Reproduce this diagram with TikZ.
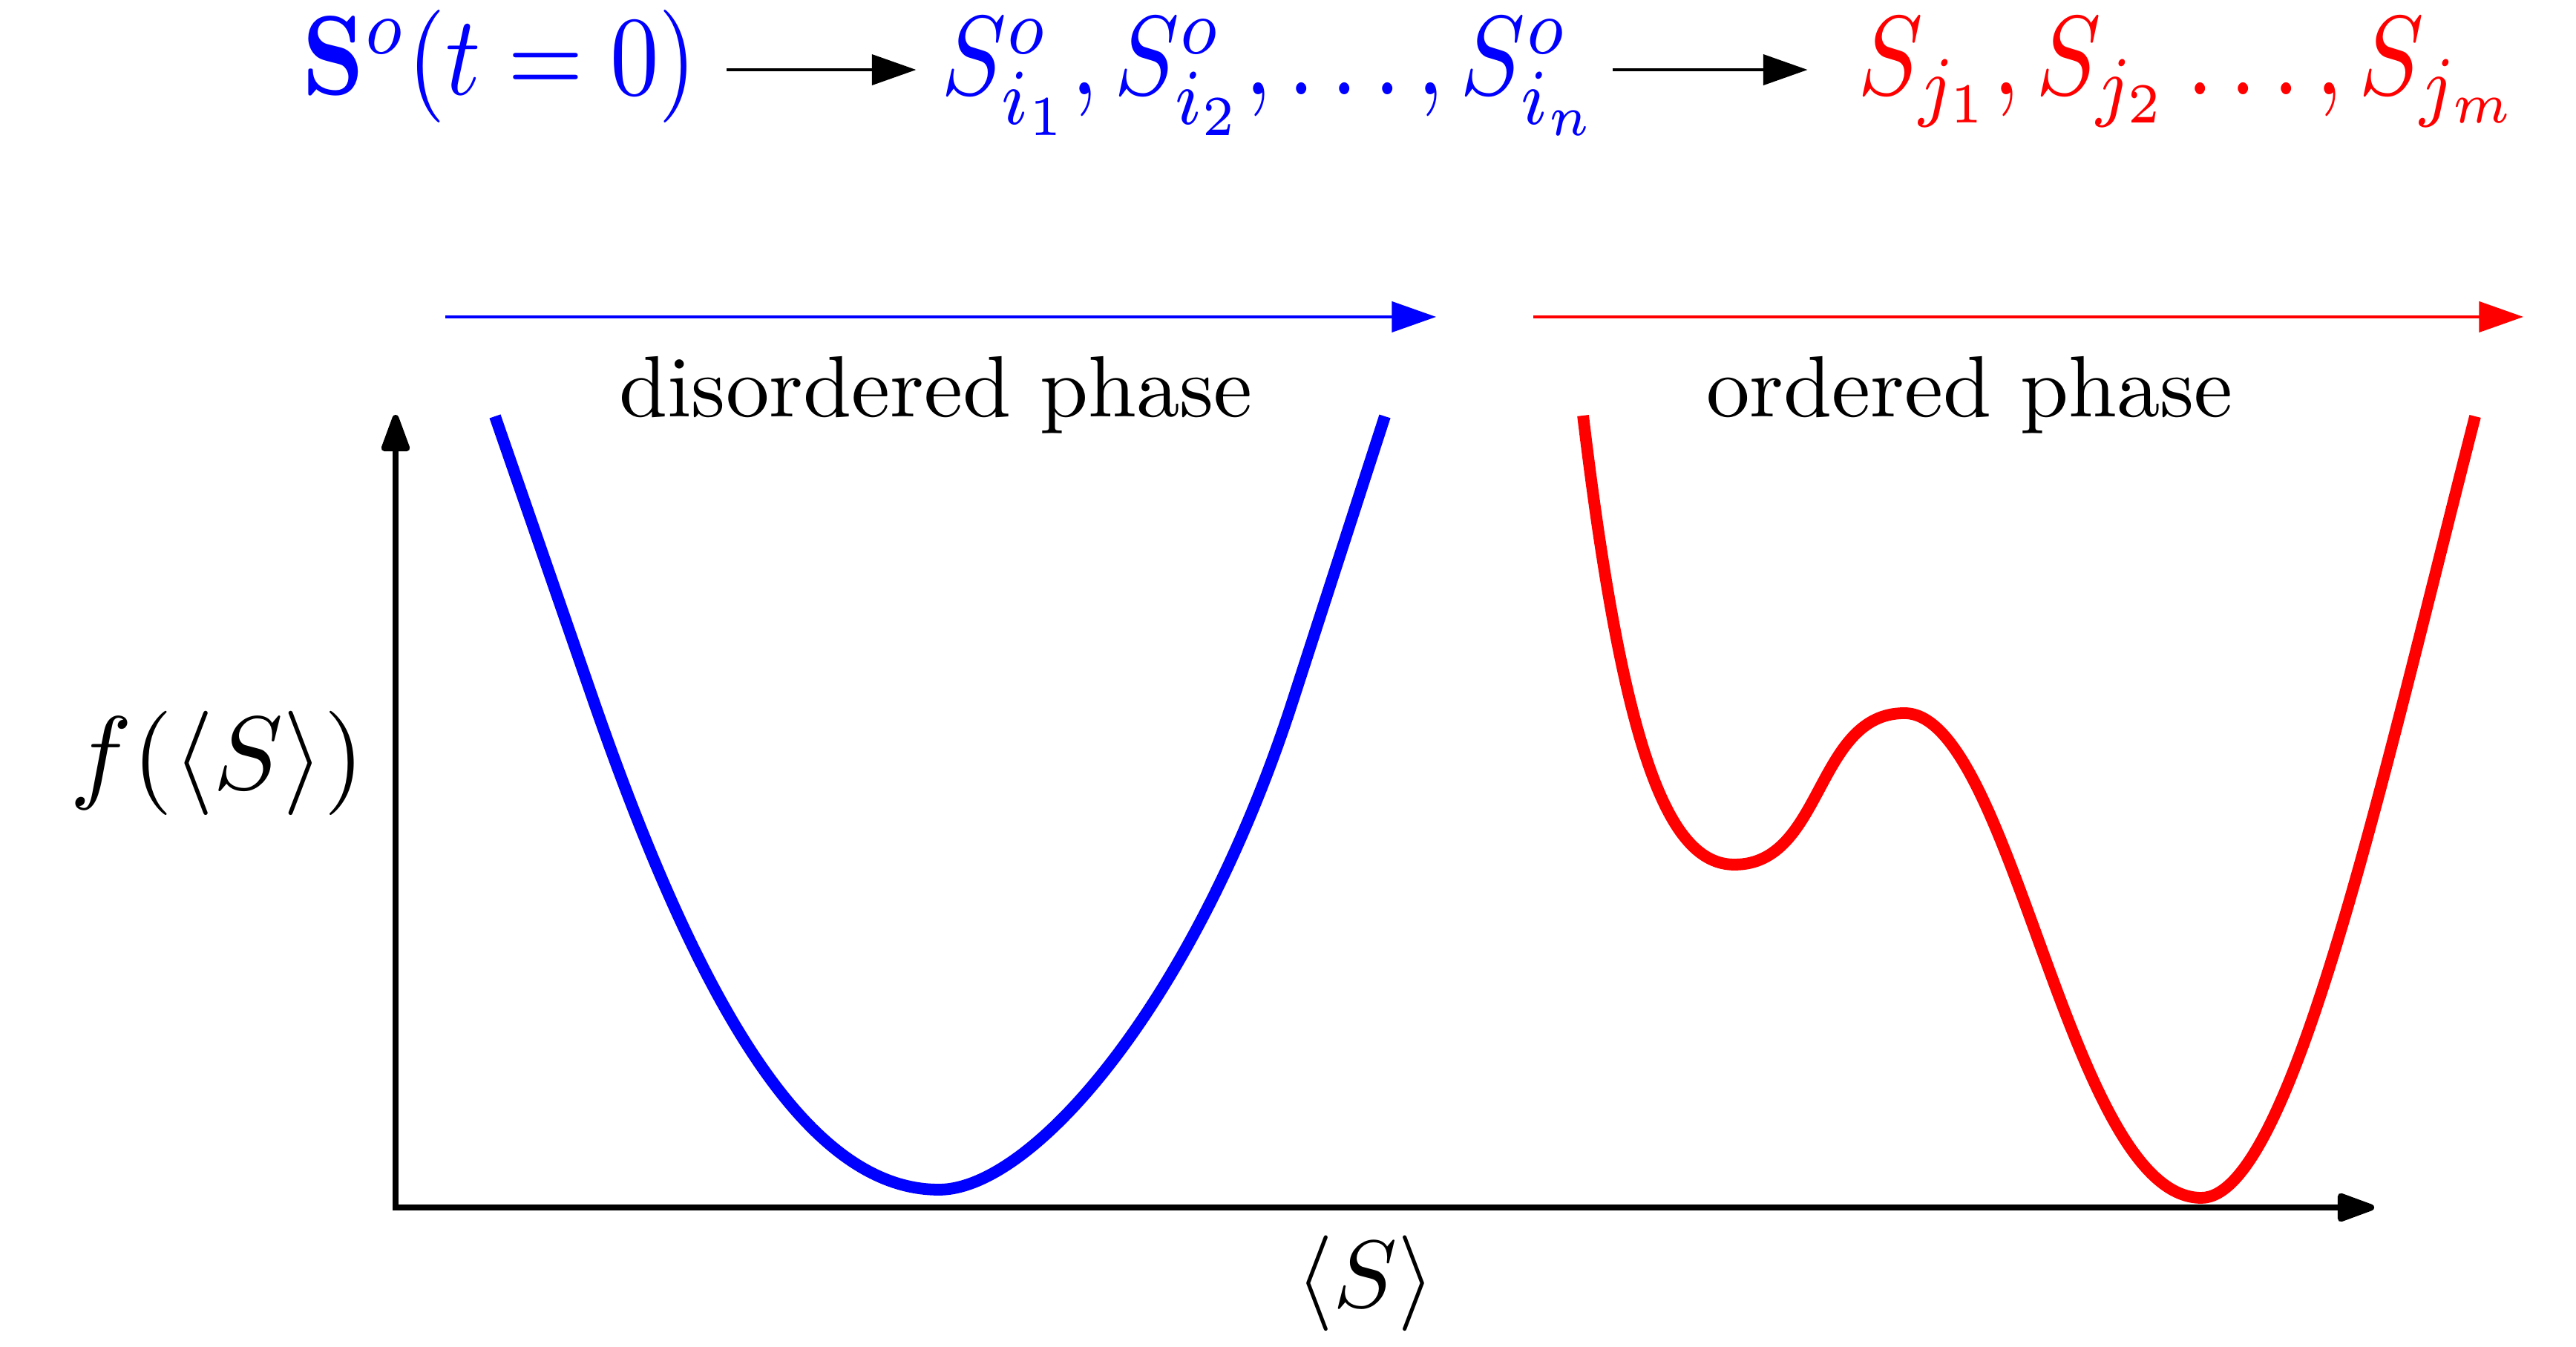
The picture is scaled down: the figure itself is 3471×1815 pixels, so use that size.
\documentclass[tikz,border=0pt]{standalone}
\usetikzlibrary{arrows.meta}
\begin{document}
\begin{tikzpicture}[x=0.0855pt,y=-0.0855pt]
\tikzstyle{formula} = [inner sep=0pt, anchor=base west, xscale=1.12, yscale=1.3]
\tikzstyle{phase} = [inner sep=0pt, anchor=base]
\tikzstyle{arrow} = [->, >={Triangle[length=5.1pt,width=3.5pt]}, line width=0.35pt]
\tikzstyle{axis} = [<->, >={Triangle[round,length=5pt,width=3.4pt]}, line width=0.75pt]
\tikzstyle{curve} = [line width=1.35pt]

\useasboundingbox (0,0) rectangle (3471,1815);

\node (init) [formula, blue] at (405,128) {$\mathbf{S}^o(t=0)$};
\node (spins) [formula, blue] at (1266,128) {$S^o_{i_1}, S^o_{i_2}, \ldots, S^o_{i_n}$};
\node (final) [formula, red] at (2501,128) {$S_{j_1}, S_{j_2} \ldots, S_{j_m}$};

\draw [arrow, shorten <=3.2pt, shorten >=2.7pt] ([yshift=2.9pt]init.base east) -- ([yshift=2.9pt]spins.base west);
\draw [arrow, shorten <=1.2pt, shorten >=5.6pt] ([yshift=2.9pt]spins.base east) -- ([yshift=2.9pt]final.base west);

\coordinate (dstart) at (600,427);
\coordinate (dend) at (1935,427);
\coordinate (ostart) at (2066,427);
\coordinate (oend) at (3400,427);
\draw [arrow, blue] (dstart) -- (dend);
\draw [arrow, red] (ostart) -- (oend);
\node (dlabel) [phase] at (1261,562) {disordered phase};
\node (olabel) [phase] at (2654,562) {ordered phase};

\coordinate (origin) at (533,1627);
\coordinate (ytip) at (533,559);
\coordinate (xtip) at (3199,1627);
\draw [axis] (ytip) -- (origin) -- (xtip);
\node (fy) [scale=1.2] at (293,1028) {$f(\langle S\rangle)$};
\node (sx) [scale=1.1] at (1840,1729) {$\langle S\rangle$};

\draw [curve, blue] (667,561) -- (800,945) .. controls (939,1345) and (1085,1603) .. (1265,1603)
  .. controls (1393,1603) and (1611,1347) .. (1741,947) -- (1866,561);
\draw [curve, red] (2133,560) .. controls (2187,1010) and (2247,1165) .. (2337,1165)
  .. controls (2457,1165) and (2446,961) .. (2566,961)
  .. controls (2712,961) and (2788,1614) .. (2966,1614)
  .. controls (3086,1614) and (3207,1061) .. (3335,561);
\end{tikzpicture}
\end{document}
